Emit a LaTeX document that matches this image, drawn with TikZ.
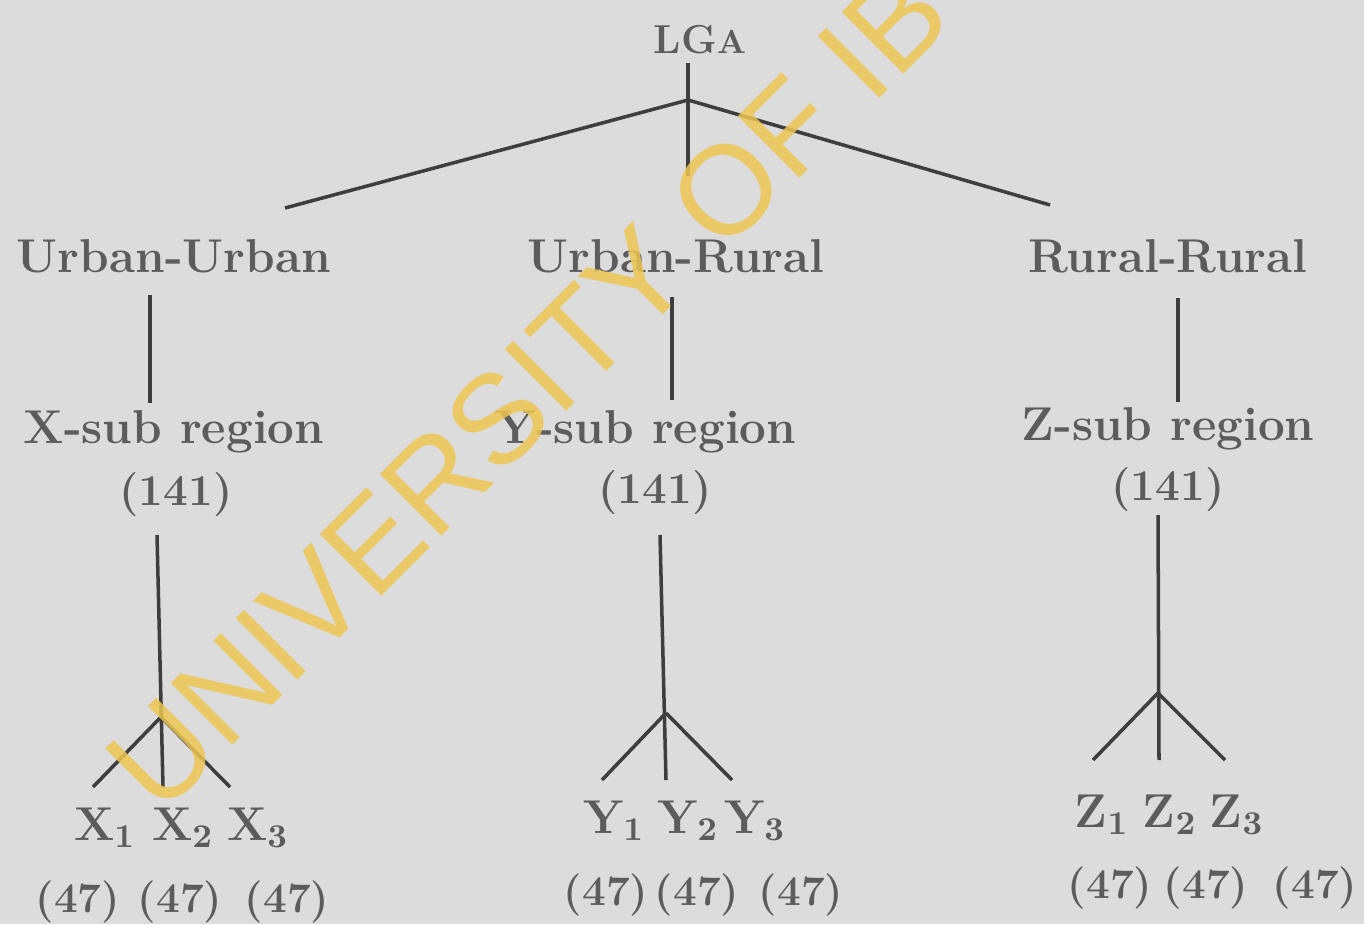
\documentclass[tikz,border=0pt]{standalone}
\usepackage{fontspec}
\newfontfamily\stampfont{Liberation Sans}
\usetikzlibrary{positioning}
\definecolor{paper}{RGB}{220,220,220}
\definecolor{ink}{RGB}{92,92,92}
\definecolor{rule}{RGB}{62,62,62}
\definecolor{stamp}{RGB}{238,198,82}
\tikzstyle{lbl} = [text=ink, inner sep=0pt, anchor=base, font=\bfseries\fontsize{13.5}{16}\selectfont]
\tikzstyle{count} = [lbl, font=\bfseries\fontsize{12}{14}\selectfont]
\tikzstyle{link} = [draw=rule, line width=1pt]

\begin{document}
\begin{tikzpicture}[x=0.01cm, y=-0.01cm]
\fill[paper] (0,0) rectangle (1364,924);
\useasboundingbox (0,0) rectangle (1364,924);

% top level
\node[lbl, font=\bfseries\fontsize{11.5}{14}\selectfont] (lga) at (700,53) {LG{\fontsize{9.5}{12}\selectfont A}};
\coordinate (hubtop) at (688,63);
\coordinate (hub) at (688,100);
\coordinate (hubleft) at (285,208);
\coordinate (hubmid) at (688,176);
\coordinate (hubright) at (1050,205);
\draw[link] (hubtop) -- (hubmid);
\draw[link] (hub) -- (hubleft);
\draw[link] (hub) -- (hubright);

\node[lbl] (uu) at (174,272) {Urban-Urban};
\node[lbl] (ur) at (676,272) {Urban-Rural};
\node[lbl] (rr) at (1168,272) {Rural-Rural};

\coordinate (uudown) at (150,295);
\coordinate (urdown) at (672,297);
\coordinate (rrdown) at (1178,298);
\coordinate (xsup) at (150,403);
\coordinate (ysup) at (672,400);
\coordinate (zsup) at (1178,402);
\draw[link] (uudown) -- (xsup);
\draw[link] (urdown) -- (ysup);
\draw[link] (rrdown) -- (zsup);

\node[lbl] (xsub) at (174,443) {X-sub region};
\node[lbl, font=\bfseries\fontsize{12.5}{15}\selectfont] (xnum) at (176,505) {(141)};
\node[lbl] (ysub) at (646,443) {Y-sub region};
\node[lbl, font=\bfseries\fontsize{12.5}{15}\selectfont] (ynum) at (655,503) {(141)};
\node[lbl] (zsub) at (1168,440) {Z-sub region};
\node[lbl, font=\bfseries\fontsize{12.5}{15}\selectfont] (znum) at (1168,500) {(141)};

% X branch
\coordinate (xtop) at (157,535);
\coordinate (xfork) at (161,717);
\coordinate (xleft) at (93,787);
\coordinate (xmid) at (163,787);
\coordinate (xright) at (230,787);
\draw[link] (xtop) -- (xmid);
\draw[link] (xfork) -- (xleft);
\draw[link] (xfork) -- (xright);
\node[lbl] (x1) at (105,840) {X\textsubscript{1}};
\node[lbl] (x2) at (183,840) {X\textsubscript{2}};
\node[lbl] (x3) at (258,840) {X\textsubscript{3}};
\node[count] (x1n) at (78,912) {(47)};
\node[count] (x2n) at (180,912) {(47)};
\node[count] (x3n) at (287,912) {(47)};

% Y branch
\coordinate (ytop) at (660,535);
\coordinate (yfork) at (666,713);
\coordinate (yleft) at (602,780);
\coordinate (ymid) at (666,780);
\coordinate (yright) at (732,780);
\draw[link] (ytop) -- (ymid);
\draw[link] (yfork) -- (yleft);
\draw[link] (yfork) -- (yright);
\node[lbl] (y1) at (614,833) {Y\textsubscript{1}};
\node[lbl] (y2) at (688,833) {Y\textsubscript{2}};
\node[lbl] (y3) at (755,833) {Y\textsubscript{3}};
\node[count] (y1n) at (606,905) {(47)};
\node[count] (y2n) at (697,905) {(47)};
\node[count] (y3n) at (801,905) {(47)};

% Z branch
\coordinate (ztop) at (1158,515);
\coordinate (zfork) at (1158,693);
\coordinate (zleft) at (1093,760);
\coordinate (zmid) at (1159,760);
\coordinate (zright) at (1225,760);
\draw[link] (ztop) -- (zmid);
\draw[link] (zfork) -- (zleft);
\draw[link] (zfork) -- (zright);
\node[lbl] (z1) at (1102,827) {Z\textsubscript{1}};
\node[lbl] (z2) at (1170,827) {Z\textsubscript{2}};
\node[lbl] (z3) at (1237,827) {Z\textsubscript{3}};
\node[count] (z1n) at (1110,898) {(47)};
\node[count] (z2n) at (1206,898) {(47)};
\node[count] (z3n) at (1315,898) {(47)};

\begin{scope}
\clip (0,0) rectangle (1364,924);
\node[text=stamp, opacity=0.85, inner sep=0pt, anchor=base west, rotate=45,
  font=\stampfont\fontsize{36}{40}\selectfont] (mark) at (160,818) {UNIVERSITY OF IB};
\end{scope}
\end{tikzpicture}
\end{document}
